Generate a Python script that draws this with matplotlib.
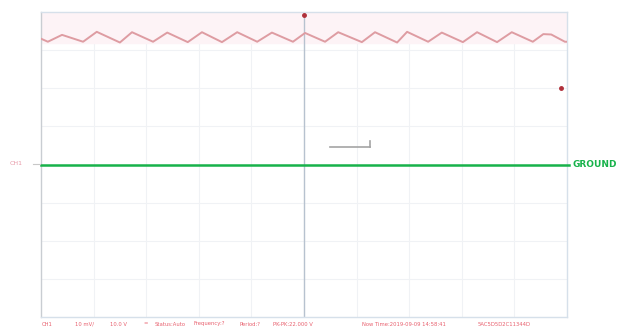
import matplotlib
matplotlib.use("Agg")
import matplotlib.pyplot as plt

# ---------------- data (screen divisions) ----------------
# CH1 ripple trace: alternating troughs / peaks
wave_t = [0.00, 0.13, 0.40, 0.80, 1.06, 1.50, 1.73, 2.13, 2.40, 2.79, 3.06,
          3.44, 3.73, 4.11, 4.39, 4.79, 5.02, 5.40, 5.65, 6.10, 6.35, 6.77,
          6.96, 7.36, 7.62, 8.02, 8.29, 8.67, 8.95, 9.35, 9.55, 9.70, 9.96, 10.0]
wave_v = [3.30, 3.22, 3.40, 3.22, 3.48, 3.20, 3.47, 3.22, 3.46, 3.21, 3.47,
          3.21, 3.47, 3.22, 3.46, 3.22, 3.45, 3.22, 3.47, 3.21, 3.47, 3.20,
          3.48, 3.22, 3.46, 3.21, 3.47, 3.21, 3.47, 3.22, 3.42, 3.41, 3.22, 3.22]

ground_level = 0.0
trigger_pos = 5.0
trigger_level = 2.0
cursor_t = [5.49, 6.24, 6.26, 6.26]
cursor_v = [0.46, 0.46, 0.46, 0.62]

status_parts = ["CH1", "10 mV/", "10.0 V", "=", "Status:Auto", "Frequency:?",
                "Period:?", "PK-PK:22.000 V", "Now Time:2019-09-09 14:58:41",
                "5AC5D5D2C11344D"]
status_x = [42, 75, 110, 143, 155, 193, 240, 273, 362, 478]

# ---------------- figure ----------------
fig = plt.figure(figsize=(6.21, 3.32), dpi=100)
ax = fig.add_axes([41 / 621, 15 / 332, 526 / 621, 305 / 332])
ax.set_xlim(0, 10)
ax.set_ylim(-4, 4)

# faint scope grid
for gx in range(1, 10):
    ax.axvline(gx, color="#f0f2f5", lw=0.8, zorder=0)
for gy in range(-3, 4):
    ax.axhline(gy, color="#f0f2f5", lw=0.8, zorder=0)
ax.axvline(trigger_pos, color="#b7c2cf", lw=1.0, zorder=1)

# pink wash behind the trace
ax.axhspan(3.2, 4, color="#fdf3f6", zorder=0)

ax.plot(wave_t, wave_v, color="#de9ca2", lw=1.4, solid_joinstyle="round",
        solid_capstyle="round", zorder=3)
ax.plot(cursor_t[:3], cursor_v[:3], color="#a4a4a4", lw=1.2, zorder=3)
ax.plot(cursor_t[2:], cursor_v[2:], color="#a4a4a4", lw=1.2, zorder=3)

ax.axhline(ground_level, xmin=0, xmax=1.003, color="#17b24a", lw=1.8,
           zorder=4, clip_on=False)
ax.text(1.01, 0.5, "GROUND", transform=ax.transAxes, color="#17b24a",
        fontsize=6.5, fontweight="bold", va="center", ha="left")

ax.plot([trigger_pos], [3.92], "o", color="#b0303a", ms=2.5, zorder=5, clip_on=False)
ax.plot([9.89], [trigger_level], "o", color="#b0303a", ms=2.5, zorder=5, clip_on=False)

for s in ax.spines.values():
    s.set_color("#d6e0ea")
    s.set_linewidth(1.0)
ax.spines["left"].set_color("#c9cdd2")
ax.set_xticks([])
ax.set_yticks([])

# channel tag on the left
fig.text(10 / 621, 1 - 164 / 332, "CH1", color="#e89aa8", fontsize=4.5,
         va="center", ha="left")
fig.add_artist(plt.Line2D([33 / 621, 40 / 621], [1 - 164 / 332] * 2,
                          color="#c8c8c8", lw=0.8))

# status bar
for part, px in zip(status_parts, status_x):
    fig.text(px / 621, 1 - 324 / 332, part, color="#e8606e", fontsize=3.8,
             va="center", ha="left")

fig.savefig("out.png", dpi=100)
